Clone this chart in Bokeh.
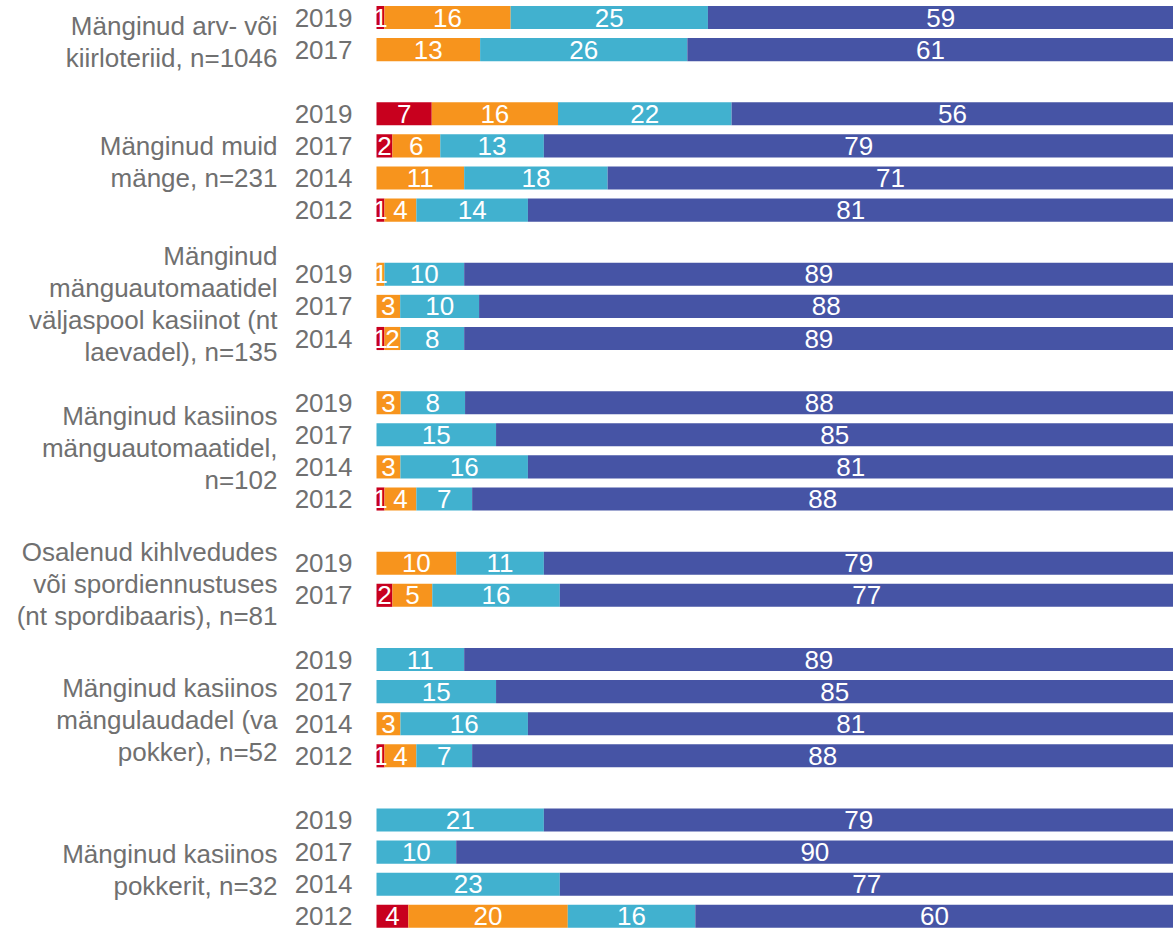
from bokeh.plotting import figure
from bokeh.models import ColumnDataSource, Range1d
from bokeh.embed import file_html
from bokeh.resources import INLINE
from bokeh.core.properties import value

# ---------------- data ----------------
group_labels = [
    ["Mänginud arv- või", "kiirloteriid, n=1046"],
    ["Mänginud muid", "mänge, n=231"],
    ["Mänginud", "mänguautomaatidel", "väljaspool kasiinot (nt", "laevadel), n=135"],
    ["Mänginud kasiinos", "mänguautomaatidel,", "n=102"],
    ["Osalenud kihlvedudes", "või spordiennustuses", "(nt spordibaaris), n=81"],
    ["Mänginud kasiinos", "mängulaudadel (va", "pokker), n=52"],
    ["Mänginud kasiinos", "pokkerit, n=32"],
]
years = [
    ["2019", "2017"],
    ["2019", "2017", "2014", "2012"],
    ["2019", "2017", "2014"],
    ["2019", "2017", "2014", "2012"],
    ["2019", "2017"],
    ["2019", "2017", "2014", "2012"],
    ["2019", "2017", "2014", "2012"],
]
red = [1, 0, 7, 2, 0, 1, 0, 0, 1, 0, 0, 0, 1, 0, 2, 0, 0, 0, 1, 0, 0, 0, 4]
orange = [16, 13, 16, 6, 11, 4, 1, 3, 2, 3, 0, 3, 4, 10, 5, 0, 0, 3, 4, 0, 0, 0, 20]
cyan = [25, 26, 22, 13, 18, 14, 10, 10, 8, 8, 15, 16, 7, 11, 16, 11, 15, 16, 7, 21, 10, 23, 16]
blue = [59, 61, 56, 79, 71, 81, 89, 88, 89, 88, 85, 81, 88, 79, 77, 89, 85, 81, 88, 79, 90, 77, 60]

series = [red, orange, cyan, blue]
colors = ["#C8001E", "#F7941D", "#41B1CF", "#4654A5"]

# ---------------- layout helpers ----------------
FONT = value("Liberation Sans")
FS = value("26px")
GREY = "#707070"
label_shift_px = [8, 0, -2, -3, 5, 12, 2]   # vertical nudge of each group label
line_px = 32

row_y, row_year = [], []
grp_center = []
slot = 0
for g, yrs in enumerate(years):
    ys = []
    for yr in yrs:
        ys.append(-slot)
        row_year.append(yr)
        slot += 1
    row_y.extend(ys)
    grp_center.append(sum(ys) / len(ys))
    slot += 1  # blank slot between groups

# normalise each row to 100 %
totals = [sum(s[i] for s in series) for i in range(len(red))]
lefts = [0.0] * len(red)

PX_PER_SLOT = 32.1
W, H = 1173, 931
BAR_LEFT_PX = 376
FIRST_CENTER_PX = 17.0
x0 = -BAR_LEFT_PX / (W - BAR_LEFT_PX) * 100
y_top = FIRST_CENTER_PX / PX_PER_SLOT
y_bot = y_top - H / PX_PER_SLOT

p = figure(width=W, height=H, output_backend="svg", toolbar_location=None,
           x_range=Range1d(x0, 100), y_range=Range1d(y_bot, y_top),
           min_border=0, min_border_left=0, min_border_right=0,
           min_border_top=0, min_border_bottom=0)
p.axis.visible = False
p.grid.visible = False
p.outline_line_color = None
p.background_fill_color = "white"
p.border_fill_color = "white"

lab_x, lab_y, lab_t = [], [], []
for s, c in zip(series, colors):
    l = lefts[:]
    r = [lefts[i] + s[i] / totals[i] * 100 for i in range(len(s))]
    src = ColumnDataSource(dict(y=row_y, left=l, right=r))
    p.hbar(y="y", left="left", right="right", height=0.72, source=src,
           fill_color=c, line_color=None)
    for i in range(len(s)):
        if s[i] > 0:
            lab_x.append((l[i] + r[i]) / 2)
            lab_y.append(row_y[i])
            lab_t.append(str(s[i]))
    lefts = r

p.text(x=lab_x, y=lab_y, text=lab_t, text_font=FONT, text_font_size=FS,
       text_color="white", text_align="center", text_baseline="middle")

# year labels
p.text(x=[0] * len(row_y), y=row_y, text=row_year, x_offset=-24,
       text_font=FONT, text_font_size=FS, text_color=GREY,
       text_align="right", text_baseline="middle")

# group labels
gx, gy, gt, goff = [], [], [], []
for g, lines in enumerate(group_labels):
    n = len(lines)
    for k, t in enumerate(lines):
        gx.append(0)
        gy.append(grp_center[g])
        gt.append(t)
        goff.append((k - (n - 1) / 2) * line_px + label_shift_px[g])
src_g = ColumnDataSource(dict(x=gx, y=gy, t=gt, off=goff))
p.text(x="x", y="y", text="t", y_offset="off", x_offset=-99, source=src_g,
       text_font=FONT, text_font_size=FS, text_color=GREY,
       text_align="right", text_baseline="middle")

open("out.html", "w").write(file_html(p, INLINE))
